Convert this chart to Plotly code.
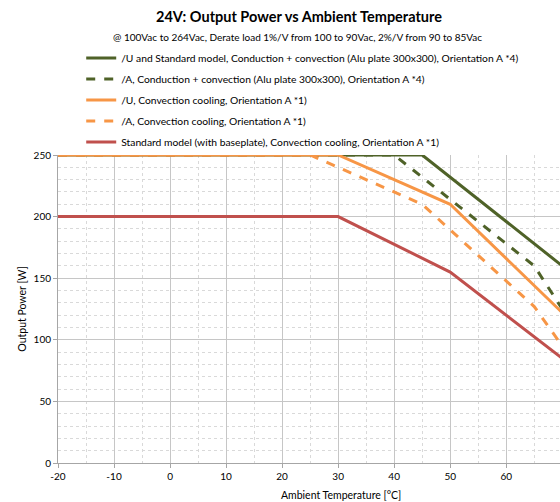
import plotly.graph_objects as go

# Data (ambient temperature in °C, output power in W)
names = [
    "/U and Standard model, Conduction + convection (Alu plate 300x300), Orientation A *4)",
    "/A, Conduction + convection (Alu plate 300x300), Orientation A *4)",
    "/U, Convection cooling, Orientation A *1)",
    "/A, Convection cooling, Orientation A *1)",
    "Standard model (with baseplate), Convection cooling, Orientation A *1)",
]
u_cond_x = [-20, 45, 70]
u_cond_y = [250, 250, 160]
a_cond_x = [-20, 40, 65, 70]
a_cond_y = [250, 250, 160, 125]
u_conv_x = [-20, 30, 50, 70]
u_conv_y = [250, 250, 210, 122]
a_conv_x = [-20, 25, 45, 65, 70]
a_conv_y = [250, 250, 210, 127, 95]
std_x = [-20, 30, 50, 70]
std_y = [200, 200, 155, 85]

x_tickvals = [-20, -10, 0, 10, 20, 30, 40, 50, 60, 70]
x_ticktext = ["-20", "-10", "0", "10", "20", "30", "40", "50", "60", "70"]

green = "#4F6228"
orange = "#F79646"
red = "#C0504D"

series = [
    (u_cond_x, u_cond_y, green, "solid"),
    (a_cond_x, a_cond_y, green, "dash"),
    (u_conv_x, u_conv_y, orange, "solid"),
    (a_conv_x, a_conv_y, orange, "dash"),
    (std_x, std_y, red, "solid"),
]

FONT = "Lato, 'Open Sans', sans-serif"

fig = go.Figure()
for i, ((xs, ys, col, dash), nm) in enumerate(zip(series, names)):
    fig.add_trace(go.Scatter(
        x=xs, y=ys, mode="lines", name=nm, legendgroup=f"g{i}",
        line=dict(color=col, width=3, dash=dash), hoverinfo="skip",
    ))

W, H = 560, 502
PX0, PY0, PW, PH = 58.3, 463, 501.7, 308  # plot area in page pixels
L, T, B, R = PX0, PY0 - PH, H - PY0, W - PX0 - PW


def px(x):
    return (x - PX0) / PW


def py(y):
    return (PY0 - y) / PH


fig.update_layout(
    width=W, height=H,
    margin=dict(l=L, r=R, t=T, b=B, autoexpand=False),
    paper_bgcolor="white", plot_bgcolor="white",
    font=dict(family=FONT, size=11, color="#000000"),
    showlegend=True,
    hovermode=False,
    legend=dict(
        x=px(81.5), y=py(43.5),
        xanchor="left", yanchor="top",
        bgcolor="rgba(0,0,0,0)",
        font=dict(size=10.3, family=FONT),
        tracegroupgap=2,
        itemwidth=30,
    ),
    annotations=[
        dict(text="<b>24V: Output Power vs Ambient Temperature</b>",
             xref="paper", yref="paper", x=px(299.5), y=py(16.5),
             xanchor="center", yanchor="middle", showarrow=False,
             font=dict(size=14.5, family=FONT, color="#000")),
        dict(text="@ 100Vac to 264Vac, Derate load 1%/V from 100 to 90Vac, 2%/V from 90 to 85Vac",
             xref="paper", yref="paper", x=px(298), y=py(37),
             xanchor="center", yanchor="middle", showarrow=False,
             font=dict(size=10, family=FONT, color="#000")),
        dict(text="Ambient Temperature [°C]",
             xref="paper", yref="paper", x=px(341), y=py(495),
             xanchor="center", yanchor="middle", showarrow=False,
             font=dict(size=10.5, family=FONT, color="#000")),
    ],
)

fig.update_xaxes(
    range=[-20, 69.6], tickvals=x_tickvals, ticktext=x_ticktext,
    showgrid=True, gridcolor="#C6C6C6", gridwidth=1,
    minor=dict(dtick=5, tick0=0, showgrid=True, gridcolor="#D9D9D9", griddash="dot", gridwidth=1),
    showline=True, linecolor="#A6A6A6", linewidth=1,
    ticks="outside", ticklen=4, tickcolor="#A6A6A6",
    tickfont=dict(size=10, family=FONT, color="#000"),
    zeroline=False, automargin=False,
)
fig.update_yaxes(
    range=[0, 250], dtick=50, tick0=0,
    showgrid=True, gridcolor="#C6C6C6", gridwidth=1,
    minor=dict(dtick=10, showgrid=True, gridcolor="#D9D9D9", griddash="dot", gridwidth=1),
    showline=True, linecolor="#A6A6A6", linewidth=1,
    ticks="outside", ticklen=4, tickcolor="#A6A6A6",
    tickfont=dict(size=10, family=FONT, color="#000"),
    title=dict(text="Output Power [W]", font=dict(size=10.5, family=FONT, color="#000"), standoff=4),
    zeroline=False, automargin=False,
)

fig.write_html(
    "out.html",
    config={"displayModeBar": False},
    post_script="document.body.style.margin='0';document.documentElement.style.overflow='hidden';",
)
